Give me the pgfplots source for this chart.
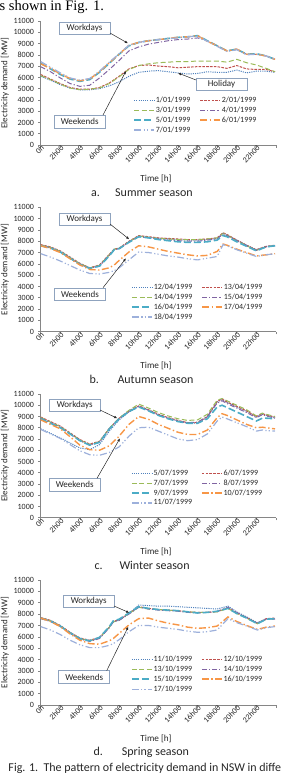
\documentclass[border=0pt]{standalone}
\usepackage{pgfplots}
\pgfplotsset{compat=1.18}
\usepackage{pgfplotstable}
\usepackage{fontspec}
\setmainfont{Carlito}
\newfontfamily\bodyserif{Liberation Serif}
\usetikzlibrary{arrows.meta}

\definecolor{cA}{HTML}{4F81BD}
\definecolor{cB}{HTML}{C0504D}
\definecolor{cC}{HTML}{9BBB59}
\definecolor{cD}{HTML}{8064A2}
\definecolor{cE}{HTML}{4BACC6}
\definecolor{cF}{HTML}{F79646}
\definecolor{cG}{HTML}{9DB0DB}
\definecolor{axisgray}{HTML}{868686}
\definecolor{boxedge}{HTML}{8FA3BE}
\definecolor{txt}{HTML}{262626}

\tikzset{
  dA/.style={cA, line width=1.0pt, dash pattern=on 1.1pt off 1.1pt},
  dB/.style={cB, line width=1.0pt, dash pattern=on 2.6pt off 1.2pt},
  dC/.style={cC, line width=1.0pt, dash pattern=on 5pt off 2.6pt},
  dD/.style={cD, line width=1.0pt, dash pattern=on 5pt off 2pt on 1.2pt off 2pt},
  dE/.style={cE, line width=1.6pt, dash pattern=on 7pt off 3pt},
  dF/.style={cF, line width=1.4pt, dash pattern=on 7pt off 2.5pt on 1.4pt off 2.5pt},
  dG/.style={cG, line width=1.2pt, dash pattern=on 7pt off 2.5pt on 1.2pt off 2pt on 1.2pt off 2.5pt},
  note/.style={draw=boxedge, fill=white, line width=0.6pt, minimum width=51pt, minimum height=12.5pt,
    inner sep=0pt, font=\fontsize{9}{10}\selectfont, text=txt},
  pointer/.style={-{Latex[length=3.2pt,width=2.6pt]}, line width=0.5pt, black!85},
  caption/.style={anchor=base west, inner sep=0pt, font=\fontsize{12}{14}\selectfont, text=txt},
}

\pgfplotsset{
  demand/.style={
    scale only axis, width=235.3pt,
    xmin=0, xmax=24, ymin=0, ymax=11000,
    axis lines*=left,
    axis line style={axisgray, line width=0.6pt},
    tick align=outside, major tick length=2.6pt,
    tick style={axisgray, line width=0.6pt},
    xtick={0,2,...,24},
    xticklabels={0h,2h00,4h00,6h00,8h00,10h00,12h00,14h00,16h00,18h00,20h00,22h00,{}},
    ytick={0,1000,...,11000},
    scaled y ticks=false,
    /pgf/number format/assume math mode=true,
    /pgf/number format/1000 sep={},
    yticklabel style={font=\fontsize{8}{9}\selectfont, text=txt, inner sep=1pt, xshift=-3pt},
    xticklabel style={rotate=45, anchor=east, font=\fontsize{8}{9}\selectfont, text=txt, inner sep=1pt, xshift=3pt, yshift=-1pt},
    xlabel={Time [h]}, ylabel={Electricity demand [MW]},
    xlabel style={font=\fontsize{9.2}{10}\selectfont, text=txt, at={(axis description cs:0.49,0)}, anchor=center, yshift=-34pt},
    ylabel style={font=\fontsize{9}{10}\selectfont, text=txt, at={(axis description cs:-0.152,0.5)}, anchor=center},
    legend columns=2,
    legend cell align=left,
    legend style={anchor=north west, draw=none, fill=none, font=\fontsize{8}{9}\selectfont, text=txt,
      row sep=0.9pt, nodes={inner sep=1pt},
      /tikz/every even column/.append style={column sep=8pt}},
    legend image code/.code={\draw[#1] (0pt,0pt) -- (20pt,0pt);},
  }
}

% Hourly profiles of NSW demand [MW], one table per season
\pgfplotstableread{
h    s1    s2    s3    s4    s5    s6    s7
0    6100  6250  6150  6950  7250  7200  7400
1    5750  5850  5800  6500  6750  6800  6900
2    5350  5450  5400  5950  6250  6300  6400
3    5050  5100  5050  5450  5850  5900  5950
4    4900  4950  4900  5200  5650  5700  5750
5    4900  4950  4950  5300  5800  5850  5900
6    5000  5100  5050  5950  6450  6500  6550
7    5250  5500  5450  6700  7250  7300  7350
8    5600  6100  6050  7500  8050  8050  8100
9    6100  6750  6700  8350  8800  8850  8850
10   6450  7050  7050  8700  9100  9100  9100
11   6550  7100  7200  8950  9250  9250  9250
12   6600  7000  7300  9100  9350  9350  9350
13   6500  6950  7350  9250  9450  9450  9450
14   6400  6850  7400  9350  9550  9550  9500
15   6300  6900  7400  9400  9600  9600  9600
16   6350  6950  7450  9500  9700  9700  9650
17   6500  6950  7450  9250  9250  9200  9200
18   6450  6950  7450  8800  8800  8800  8750
19   6450  6800  7350  8350  8350  8350  8300
20   6650  7050  7600  8500  8500  8500  8450
21   6400  6750  7300  8050  8050  8050  8000
22   6550  6700  7100  8050  8100  8050  8050
23   6550  6700  6800  7900  7900  7900  7900
23.9 6450  6500  6500  7600  7600  7600  7600
}\summer

\pgfplotstableread{
h    s1    s2    s3    s4    s5    s6    s7
0    7650  7700  7650  7600  7600  7600  6900
1    7450  7500  7450  7400  7400  7350  6600
2    7100  7150  7100  7050  7050  7000  6250
3    6550  6600  6550  6500  6500  6450  5850
4    6000  6050  6000  5950  5950  5900  5450
5    5650  5650  5650  5600  5600  5500  5150
6    5850  5900  5850  5800  5800  5450  5100
7    6800  6850  6800  6750  6700  5650  5250
7.5  7300  7300  7300  7250  7250  5900  5400
8    7350  7400  7350  7300  7350  6300  5650
9    7950  8000  7950  7950  7900  7050  6350
10   8450  8500  8450  8400  8400  7600  7050
11   8350  8400  8350  8300  8300  7500  7000
12   8250  8300  8250  8200  8150  7300  6850
13   8200  8250  8200  8100  8050  7100  6700
14   8150  8200  8150  8050  7950  6950  6600
15   8100  8150  8150  8000  7900  6800  6450
16   8100  8150  8150  8000  7900  6700  6350
17   8150  8200  8200  8100  7950  6750  6500
18   8250  8300  8300  8200  8100  7100  6650
18.6 8700  8750  8700  8650  8500  7750  7700
19   8550  8600  8550  8500  8400  7650  7600
20   8100  8100  8050  8050  7950  7300  7250
21   7650  7650  7600  7600  7550  7000  6950
22   7250  7250  7200  7200  7150  6700  6650
23   7550  7550  7500  7500  7500  6800  6800
23.9 7600  7650  7600  7600  7600  6900  6900
}\autumn

\pgfplotstableread{
h    s1    s2    s3    s4    s5    s6    s7
0    7900  8950  8900  8850  8800  8700  7850
1    7500  8550  8500  8450  8400  8300  7450
2    7100  8150  8100  8050  8000  7900  7050
3    6650  7550  7500  7450  7450  7200  6500
4    6200  6950  6900  6850  6850  6450  5950
5    6050  6550  6500  6450  6450  6050  5600
6    6500  6800  6750  6700  6700  6000  5550
7    7700  7950  7950  7900  7900  6400  5800
8    8700  8850  8850  8800  8800  7250  6300
9    9400  9500  9550  9450  9450  8300  7250
10   9900  9950  10100 9900  9850  9000  8000
11   9550  9600  9750  9550  9500  8750  8050
12   9150  9200  9350  9150  9100  8300  7700
13   8850  8900  9050  8850  8800  7950  7350
14   8600  8650  8800  8600  8550  7600  7000
15   8400  8450  8650  8450  8400  7400  6850
16   8400  8450  8700  8500  8400  7400  6950
17   8950  9000  9200  9000  8800  7800  7450
18   10300 10350 10450 10200 9850  8900  8600
18.5 10500 10550 10600 10400 10000 9250  8950
19   10250 10300 10400 10150 9800  9100  8800
20   9850  9900  10000 9750  9400  8700  8450
21   9450  9500  9600  9350  9000  8300  8100
22   8950  9000  9050  8900  8600  8000  7700
22.6 9200  9250  9300  9150  8850  8050  7800
23   9100  9150  9200  9050  8850  8000  7750
23.9 8900  8950  9000  8850  8800  7900  7700
}\winter

\pgfplotstableread{
h    s1    s2    s3    s4    s5    s6    s7
0    7650  7700  7650  7600  7650  7650  6900
1    7400  7450  7400  7350  7400  7350  6600
2    6950  7000  6950  6900  6950  6900  6200
3    6350  6400  6350  6300  6350  6250  5700
4    5850  5900  5850  5800  5850  5700  5300
5    5650  5700  5650  5600  5650  5400  5050
6    5900  5950  5900  5850  5950  5350  5050
7    6850  6850  6850  6800  6900  5650  5250
7.4  7350  7350  7300  7300  7400  5850  5400
8    7450  7500  7500  7450  7550  6300  5750
9    8050  8050  8050  8000  8100  7050  6450
10   8800  8650  8600  8600  8650  7600  7000
11   8750  8500  8450  8450  8500  7650  7000
12   8700  8400  8400  8350  8400  7400  6850
13   8700  8350  8350  8300  8350  7200  6750
14   8650  8300  8300  8250  8300  7050  6650
15   8600  8200  8200  8150  8200  6850  6500
16   8550  8150  8150  8100  8100  6750  6400
17   8500  8150  8150  8150  8150  6800  6450
18   8450  8200  8200  8250  8250  6950  6600
19.1 8700  8550  8500  8600  8500  7750  7600
20   8200  8100  8050  8150  8050  7350  7250
21   7750  7700  7650  7700  7650  7000  6950
22.1 7250  7200  7150  7200  7150  6650  6600
23   7550  7600  7550  7550  7550  6850  6800
23.9 7600  7650  7600  7550  7600  6950  6900
}\spring

\begin{document}
\begin{tikzpicture}[x=1pt,y=1pt]
\path[use as bounding box] (0,0) rectangle (281,-777);
\clip (0,0) rectangle (281,-777);

\node[anchor=base west, inner sep=0pt, font=\bodyserif\fontsize{14.5}{16}\selectfont] at (-0.5,-10.7) {s shown in Fig. 1.};

% ---------- a. Summer ----------
\begin{axis}[demand, at={(40.7pt,-145pt)}, anchor=south west, height=124pt,
  legend style={at={(0.38,0.416)}}]
\addplot[dA] table[x=h,y=s1]{\summer};
\addplot[dB] table[x=h,y=s2]{\summer};
\addplot[dC] table[x=h,y=s3]{\summer};
\addplot[dD] table[x=h,y=s4]{\summer};
\addplot[dE] table[x=h,y=s5]{\summer};
\addplot[dF] table[x=h,y=s6]{\summer};
\addplot[dG] table[x=h,y=s7]{\summer};
\legend{1/01/1999,2/01/1999,3/01/1999,4/01/1999,5/01/1999,6/01/1999,7/01/1999}
\end{axis}
\node[note] at (84.5,-28.5) {Workdays};
\draw[pointer] (110,-33) -- (128,-43.3);
\node[note] at (221.5,-84.3) {Holiday};
\draw[pointer] (196,-80) -- (178,-73);
\node[note] at (79.7,-121.7) {Weekends};
\draw[pointer] (103,-115) -- (126,-71);
\node[caption] at (91,-196.7) {a.};
\node[caption] at (115,-196.7) {Summer season};

% ---------- b. Autumn ----------
\begin{axis}[demand, at={(40.7pt,-331.7pt)}, anchor=south west, height=124.4pt,
  legend style={at={(0.371,0.412)}}]
\addplot[dA] table[x=h,y=s1]{\autumn};
\addplot[dB] table[x=h,y=s2]{\autumn};
\addplot[dC] table[x=h,y=s3]{\autumn};
\addplot[dD] table[x=h,y=s4]{\autumn};
\addplot[dE] table[x=h,y=s5]{\autumn};
\addplot[dF] table[x=h,y=s6]{\autumn};
\addplot[dG] table[x=h,y=s7]{\autumn};
\legend{12/04/1999,13/04/1999,14/04/1999,15/04/1999,16/04/1999,17/04/1999,18/04/1999}
\end{axis}
\node[note] at (84.5,-219.2) {Workdays};
\draw[pointer] (110,-224) -- (129.3,-239.3);
\node[note] at (80,-294.3) {Weekends};
\draw[pointer] (103,-287.7) -- (126,-258.3);
\node[caption] at (89.3,-383.3) {b.};
\node[caption] at (117.3,-383.3) {Autumn season};

% ---------- c. Winter ----------
\begin{axis}[demand, at={(40.7pt,-517.7pt)}, anchor=south west, height=123.7pt,
  legend style={at={(0.37,0.415)}}]
\addplot[dA] table[x=h,y=s1]{\winter};
\addplot[dB] table[x=h,y=s2]{\winter};
\addplot[dC] table[x=h,y=s3]{\winter};
\addplot[dD] table[x=h,y=s4]{\winter};
\addplot[dE] table[x=h,y=s5]{\winter};
\addplot[dF] table[x=h,y=s6]{\winter};
\addplot[dG] table[x=h,y=s7]{\winter};
\legend{5/07/1999,6/07/1999,7/07/1999,8/07/1999,9/07/1999,10/07/1999,11/07/1999}
\end{axis}
\node[note] at (74.7,-405.5) {Workdays};
\draw[pointer] (100,-410) -- (117.3,-418.3);
\node[note] at (74.7,-484.7) {Weekends};
\draw[pointer] (97,-478.3) -- (120,-438.3);
\node[caption] at (94.3,-569.3) {c.};
\node[caption] at (119.3,-569.3) {Winter season};

% ---------- d. Spring ----------
\begin{axis}[demand, at={(40.7pt,-705pt)}, anchor=south west, height=125pt,
  legend style={at={(0.37,0.42)}}]
\addplot[dA] table[x=h,y=s1]{\spring};
\addplot[dB] table[x=h,y=s2]{\spring};
\addplot[dC] table[x=h,y=s3]{\spring};
\addplot[dD] table[x=h,y=s4]{\spring};
\addplot[dE] table[x=h,y=s5]{\spring};
\addplot[dF] table[x=h,y=s6]{\spring};
\addplot[dG] table[x=h,y=s7]{\spring};
\legend{11/10/1999,12/10/1999,13/10/1999,14/10/1999,15/10/1999,16/10/1999,17/10/1999}
\end{axis}
\node[note] at (88.7,-601.2) {Workdays};
\draw[pointer] (114,-606) -- (129.3,-612.7);
\node[note] at (84.2,-677) {Weekends};
\draw[pointer] (106.7,-670.7) -- (128.3,-626.7);
\node[caption] at (93.3,-755.7) {d.};
\node[caption] at (121.7,-755.7) {Spring season};

\node[caption] at (8.3,-771.7) {Fig. 1.\ \ The pattern of electricity demand in NSW in diffe};
\end{tikzpicture}
\end{document}
